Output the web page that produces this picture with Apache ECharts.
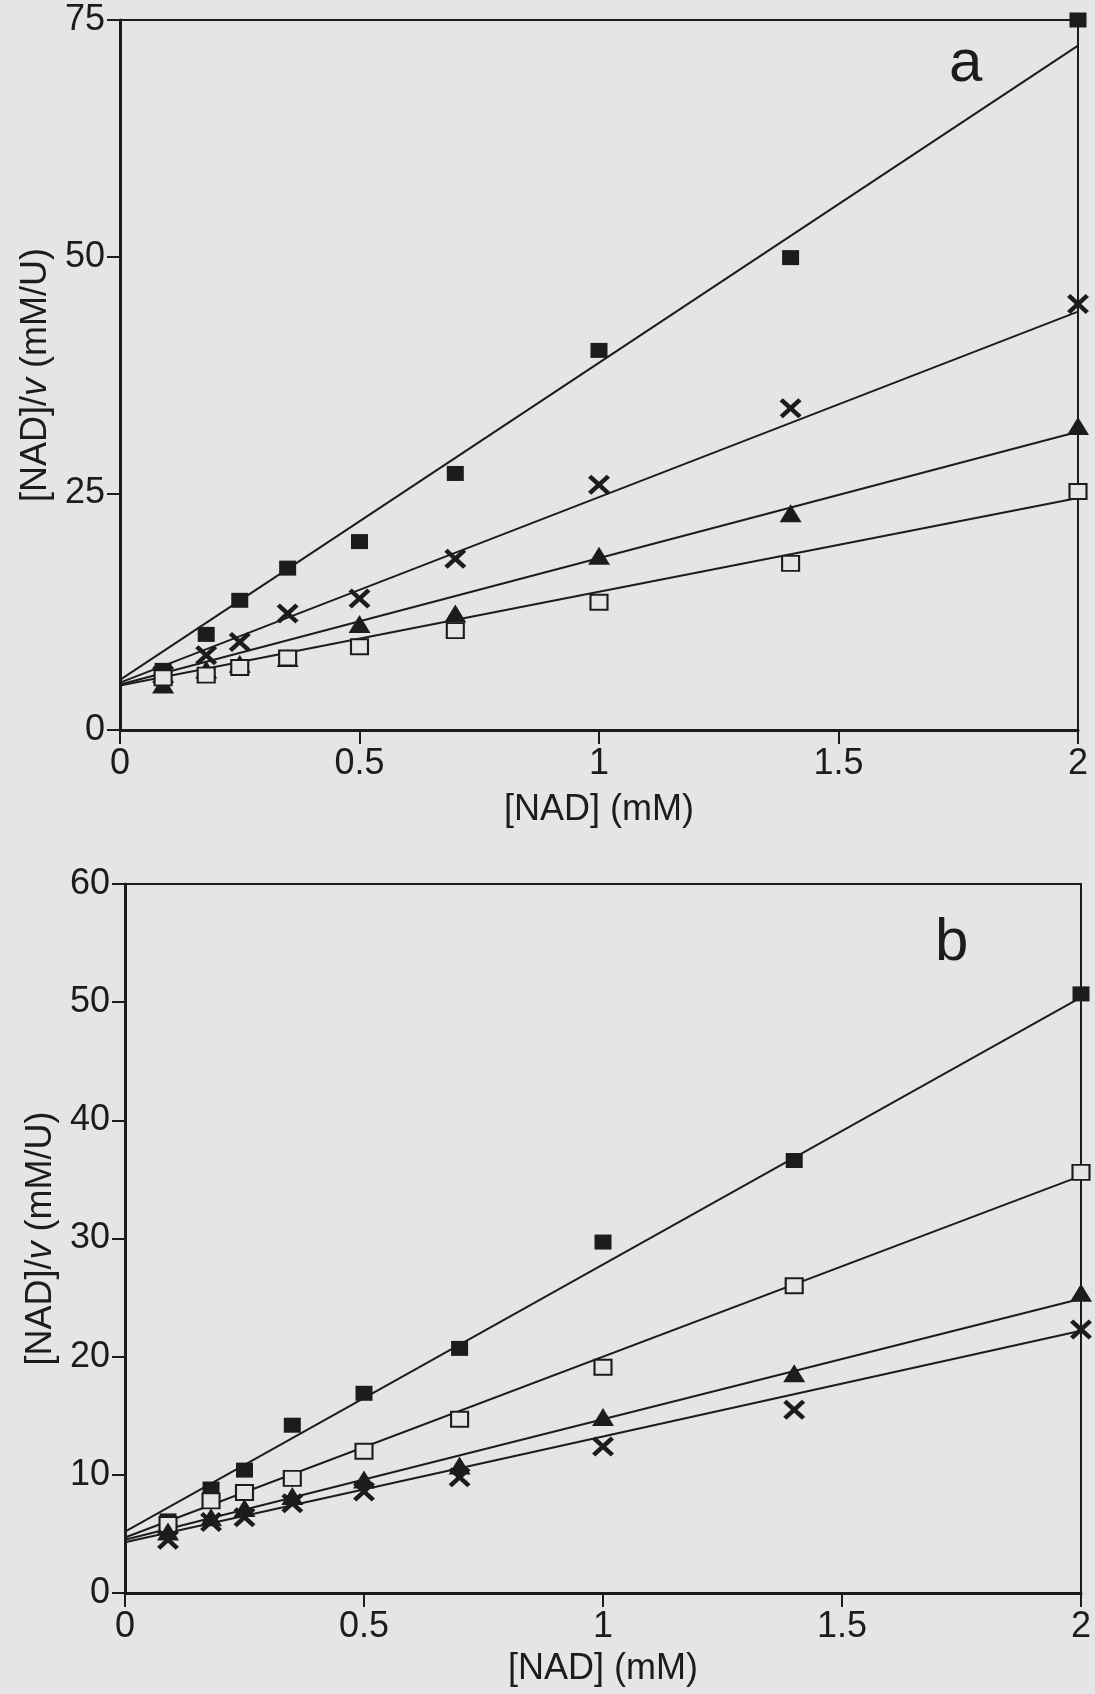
<!DOCTYPE html>
<html>
<head>
<meta charset="utf-8">
<script src="https://cdn.jsdelivr.net/npm/echarts@6/dist/echarts.min.js"></script>
<style>
  html, body { margin: 0; padding: 0; background: #e5e5e5; }
  #main { width: 1095px; height: 1694px; }
</style>
</head>
<body>
<div id="main"></div>
<script>
// [NAD] concentrations (mM)
var nad = [0.09, 0.18, 0.25, 0.35, 0.5, 0.7, 1.0, 1.4, 2.0];
var fitX = [0, 2];

// panel a : [NAD]/v values
var aFilledSq = [6.3, 10.1, 13.7, 17.1, 19.9, 27.1, 40.1, 49.9, 75.0];
var aCross    = [5.8, 7.9, 9.3, 12.3, 13.9, 18.1, 25.9, 34.0, 45.0];
var aTriangle = [4.8, 6.4, 7.0, 7.6, 11.2, 12.3, 18.4, 22.9, 32.1];
var aOpenSq   = [5.5, 5.8, 6.6, 7.6, 8.8, 10.5, 13.5, 17.6, 25.2];
// fitted lines, value at x=0 and x=2
var aFitFilledSq = [5.3, 72.3];
var aFitCross    = [5.0, 44.2];
var aFitTriangle = [4.8, 31.5];
var aFitOpenSq   = [4.7, 24.5];

// panel b
var bFilledSq = [6.1, 8.8, 10.4, 14.2, 16.9, 20.7, 29.7, 36.6, 50.7];
var bOpenSq   = [5.8, 7.8, 8.5, 9.7, 12.0, 14.7, 19.1, 26.0, 35.6];
var bTriangle = [5.2, 6.4, 7.2, 8.2, 9.6, 10.8, 14.9, 18.6, 25.4];
var bCross    = [4.5, 6.0, 6.4, 7.6, 8.6, 9.8, 12.4, 15.5, 22.3];
var bFitFilledSq = [5.2, 50.4];
var bFitOpenSq   = [4.7, 35.3];
var bFitTriangle = [4.5, 24.9];
var bFitCross    = [4.3, 22.2];

var ink = '#1c1c1c';
var bg = '#e5e5e5';
var font = "'Liberation Sans', Arial, sans-serif";
var crossPath = 'path://M0,3 L3,0 L10,7 L17,0 L20,3 L13,10 L20,17 L17,20 L10,13 L3,20 L0,17 L7,10 Z';

var markers = {
    filledSq: { symbol: 'rect', symbolSize: [17, 15], itemStyle: { color: ink, opacity: 1 } },
    openSq: { symbol: 'rect', symbolSize: [17, 15], itemStyle: { color: bg, borderColor: ink, borderWidth: 2, opacity: 1 } },
    triangle: { symbol: 'triangle', symbolSize: [22, 18], itemStyle: { color: ink, opacity: 1 } },
    cross: { symbol: crossPath, symbolSize: [22, 20], itemStyle: { color: ink, opacity: 1 } }
};

function pairs(xs, ys) {
    var out = [];
    for (var i = 0; i < xs.length; i++) out.push([xs[i], ys[i]]);
    return out;
}

function scatter(idx, ys, kind) {
    var m = markers[kind];
    return {
        type: 'scatter', xAxisIndex: idx, yAxisIndex: idx,
        data: pairs(nad, ys), symbol: m.symbol, symbolSize: m.symbolSize,
        itemStyle: m.itemStyle, z: 5, silent: true
    };
}

function fit(idx, ys) {
    return {
        type: 'line', xAxisIndex: idx, yAxisIndex: idx,
        data: pairs(fitX, ys), showSymbol: false, symbol: 'none',
        lineStyle: { color: ink, width: 2 }, z: 3, silent: true
    };
}

function xAxis(idx, gap) {
    return {
        type: 'value', gridIndex: idx, min: 0, max: 2, interval: 0.5,
        name: '[NAD] (mM)', nameLocation: 'middle', nameGap: gap,
        nameTextStyle: { fontSize: 36, color: ink, fontFamily: font },
        axisLine: { onZero: false, lineStyle: { color: ink, width: 3 } },
        axisTick: { length: 14, lineStyle: { color: ink, width: 2 } },
        axisLabel: { fontSize: 36, color: ink, fontFamily: font, margin: 16 },
        splitLine: { show: false }
    };
}

function yAxis(idx, max, step) {
    return {
        type: 'value', gridIndex: idx, min: 0, max: max, interval: step,
        name: '{n|[NAD]/}{i|v}{n| (mM/U)}', nameLocation: 'middle', nameGap: 66, nameRotate: 90,
        nameTextStyle: {
            rich: {
                n: { fontSize: 36, color: ink, fontFamily: font },
                i: { fontSize: 36, color: ink, fontFamily: font, fontStyle: 'italic' }
            }
        },
        axisLine: { onZero: false, lineStyle: { color: ink, width: 3 } },
        axisTick: { length: 13, lineStyle: { color: ink, width: 2 } },
        axisLabel: { fontSize: 36, color: ink, fontFamily: font, margin: 15 },
        splitLine: { show: false }
    };
}

var chart = echarts.init(document.getElementById('main'), null, { renderer: 'canvas' });
chart.setOption({
    backgroundColor: bg,
    animation: false,
    title: [
        { text: 'a', left: 944, top: 29, textStyle: { fontSize: 60, fontWeight: 'normal', color: ink, fontFamily: font } },
        { text: 'b', left: 930, top: 908, textStyle: { fontSize: 60, fontWeight: 'normal', color: ink, fontFamily: font } }
    ],
    grid: [
        { left: 120, top: 20, width: 958, height: 710, show: true, borderColor: ink, borderWidth: 2, backgroundColor: 'transparent' },
        { left: 125, top: 884, width: 956, height: 709, show: true, borderColor: ink, borderWidth: 2, backgroundColor: 'transparent' }
    ],
    xAxis: [xAxis(0, 62), xAxis(1, 58)],
    yAxis: [yAxis(0, 75, 25), yAxis(1, 60, 10)],
    series: [
        fit(0, aFitFilledSq), fit(0, aFitCross), fit(0, aFitTriangle), fit(0, aFitOpenSq),
        scatter(0, aFilledSq, 'filledSq'), scatter(0, aCross, 'cross'),
        scatter(0, aTriangle, 'triangle'), scatter(0, aOpenSq, 'openSq'),
        fit(1, bFitFilledSq), fit(1, bFitOpenSq), fit(1, bFitTriangle), fit(1, bFitCross),
        scatter(1, bFilledSq, 'filledSq'), scatter(1, bOpenSq, 'openSq'),
        scatter(1, bTriangle, 'triangle'), scatter(1, bCross, 'cross')
    ]
});
</script>
</body>
</html>
